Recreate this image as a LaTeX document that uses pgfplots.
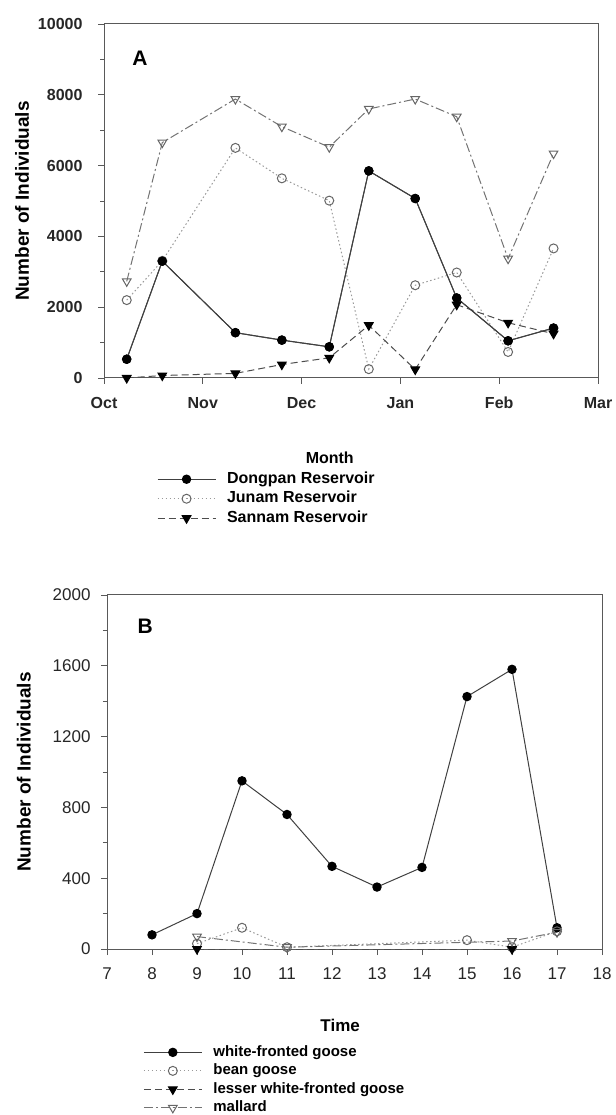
\documentclass[border=0pt]{standalone}
\usepackage{fontspec}
\setmainfont{Liberation Sans}
\usepackage{pgfplots}
\pgfplotsset{compat=1.18}
\definecolor{axc}{gray}{0.35}
\definecolor{lsolid}{gray}{0.25}
\definecolor{ldot}{gray}{0.6}
\definecolor{ldash}{gray}{0.3}
\definecolor{ldd}{gray}{0.45}
\pgfplotsset{
  common/.style={
    scale only axis,
    axis line style={axc, line width=1pt},
    tick style={axc, line width=0.9pt},
    tick align=outside, tick pos=left,
    major tick length=6pt, minor tick length=4pt,
    scaled y ticks=false, scaled x ticks=false,
    /pgf/number format/.cd, 1000 sep={}, assume math mode=true, /pgfplots/.cd,
    legend cell align=left,
    legend image code/.code={\draw[mark repeat=2,mark phase=2,#1] plot coordinates {(0pt,0pt) (29pt,0pt) (58pt,0pt)};},
  },
  sDong/.style={lsolid, line width=1pt, mark=*, mark size=4.2pt, mark options={solid, fill=black, draw=black}},
  sJun/.style={ldot, line width=1pt, dash pattern=on 1.5pt off 2.5pt, mark=o, mark size=4.5pt, mark options={solid, draw=black!60, fill=white}},
  sSan/.style={ldash, line width=1pt, dash pattern=on 7pt off 4pt, mark=triangle*, mark size=5pt, mark options={solid, rotate=180, fill=black, draw=black}},
  sFour/.style={ldd, line width=1pt, dash pattern=on 9pt off 3pt on 2pt off 3pt, mark=triangle, mark size=5pt, mark options={solid, rotate=180, draw=black!60, fill=white}},
}
\pgfplotstableread{
x     dong  jun   san   four
0.23  530   2200  0     2730
0.59  3300  3310  70    6650
1.33  1280  6500  130   7880
1.80  1070  5640  380   7100
2.28  880   5010  570   6520
2.68  5850  250   1490  7600
3.15  5070  2620  240   7880
3.57  2260  2980  2070  7380
4.09  1050  735   1560  3370
4.55  1410  3660  1250  6340
}\tabA
\begin{document}
\begin{tikzpicture}
\path[use as bounding box] (0pt,0pt) rectangle (615pt,1115pt);
% ---------------- Panel A ----------------
\begin{axis}[common,
  at={(104pt,737pt)}, anchor=south west,
  width=494pt, height=354pt,
  xmin=0, xmax=5, ymin=0, ymax=10000,
  xtick={0,1,2,3,4,5}, xticklabels={Oct,Nov,Dec,Jan,Feb,Mar},
  ytick={0,2000,4000,6000,8000,10000}, minor y tick num=1,
  ticklabel style={font=\bfseries\fontsize{16}{16}\selectfont, black!85},
  xticklabel style={yshift=-9pt, text height=12pt, text depth=0pt},
  yticklabel style={xshift=-12pt},
  xlabel={Month}, ylabel={Number of Individuals},
  xlabel style={at={(axis description cs:0.457,-0.226)}, anchor=center, font=\bfseries\fontsize{16}{16}\selectfont},
  ylabel style={at={(axis description cs:-0.166,0.5)}, anchor=center, font=\bfseries\fontsize{19}{19}\selectfont},
  legend style={draw=none, fill=none, at={(axis description cs:0.107,-0.26)}, anchor=north west,
    inner sep=0pt, font=\bfseries\fontsize{16}{16}\selectfont, row sep=1.5pt,
    nodes={text height=12pt, text depth=4pt, inner sep=1pt}, column sep=10pt},
]
\addplot[sDong] table[x=x, y=dong] {\tabA};
\addplot[sFour, forget plot] table[x=x, y=four] {\tabA};
\addplot[sJun] table[x=x, y=jun] {\tabA};
\addplot[sSan] table[x=x, y=san] {\tabA};
\addplot[sDong, forget plot] table[x=x, y=dong] {\tabA};
\legend{Dongpan Reservoir, Junam Reservoir, Sannam Reservoir}
\node[font=\bfseries\fontsize{21}{21}\selectfont] at (axis description cs:0.073,0.904) {A};
\end{axis}
% ---------------- Panel B ----------------
\begin{axis}[common,
  at={(107pt,166pt)}, anchor=south west,
  width=495pt, height=354pt,
  xmin=7, xmax=18, ymin=0, ymax=2000,
  xtick={7,8,...,18},
  ytick={0,400,800,1200,1600,2000}, minor y tick num=1,
  ticklabel style={font=\fontsize{17}{17}\selectfont, black!85},
  xticklabel style={yshift=-9pt, text height=12pt, text depth=0pt},
  yticklabel style={xshift=-7pt},
  xlabel={Time}, ylabel={Number of Individuals},
  xlabel style={at={(axis description cs:0.471,-0.215)}, anchor=center, font=\bfseries\fontsize{17}{17}\selectfont},
  ylabel style={at={(axis description cs:-0.168,0.5)}, anchor=center, font=\bfseries\fontsize{19}{19}\selectfont},
  legend style={draw=none, fill=none, at={(axis description cs:0.073,-0.266)}, anchor=north west,
    inner sep=0pt, font=\bfseries\fontsize{15}{15}\selectfont, row sep=0.5pt,
    nodes={text height=12pt, text depth=4pt, inner sep=1pt}, column sep=10pt},
]
\addplot[sDong] coordinates {(8,80) (9,200) (10,950) (11,760) (12,467) (13,350) (14,461) (15,1426) (16,1580) (17,120)};
\addplot[sJun] coordinates {(9,30) (10,120) (11,10) (15,50) (16,10) (17,100)};
\addplot[sSan] coordinates {(9,0) (16,0)};
\addplot[sFour] coordinates {(9,70) (11,10) (16,45) (17,95)};
\legend{white-fronted goose, bean goose, lesser white-fronted goose, mallard}
\node[font=\bfseries\fontsize{21}{21}\selectfont] at (axis description cs:0.077,0.912) {B};
\end{axis}
\end{tikzpicture}
\end{document}
